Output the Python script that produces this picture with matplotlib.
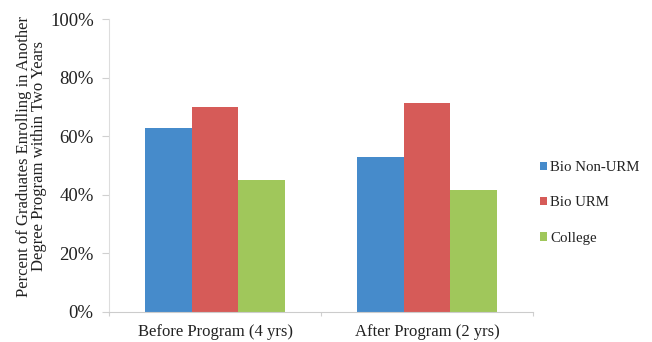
import matplotlib
matplotlib.use("Agg")
import matplotlib.pyplot as plt
import numpy as np
from matplotlib.ticker import PercentFormatter

categories = ["Before Program (4 yrs)", "After Program (2 yrs)"]
series_names = ["Bio Non-URM", "Bio URM", "College"]
bio_non_urm = [62.7, 52.8]
bio_urm = [70.0, 71.4]
college = [45.1, 41.5]
colors = ["#468bcb", "#d65b58", "#a0c75b"]

plt.rcParams["font.family"] = ["Liberation Serif", "DejaVu Serif"]

fig = plt.figure(figsize=(6.52, 3.42), dpi=100)
ax = fig.add_axes([0.1672, 0.0886, 0.6503, 0.855])

x = np.arange(len(categories))
width = 0.22
for i, (name, vals) in enumerate(zip(series_names, [bio_non_urm, bio_urm, college])):
    ax.bar(x + (i - 1) * width, vals, width, color=colors[i], label=name, zorder=2)

ax.set_xlim(-0.5, 1.5)
ax.set_ylim(0, 100)
ax.set_yticks(np.arange(0, 101, 20))
ax.yaxis.set_major_formatter(PercentFormatter(decimals=0))
ax.set_xticks(x)
ax.set_xticklabels(categories)
ax.set_xticks([-0.5, 0.5, 1.5], minor=True)

ax.tick_params(axis="x", which="major", length=0, labelsize=12, pad=9, colors="#222222")
ax.tick_params(axis="x", which="minor", length=3, color="#d0d0d0", width=0.8)
ax.tick_params(axis="y", length=5, color="#d0d0d0", width=0.8, labelsize=13.5, pad=6,
               labelcolor="#222222")

for side in ["top", "right"]:
    ax.spines[side].set_visible(False)
ax.spines["left"].set_color("#dddddd")
ax.spines["bottom"].set_color("#cccccc")
ax.spines["left"].set_linewidth(0.8)
ax.spines["bottom"].set_linewidth(0.8)

ax.set_ylabel("Percent of Graduates Enrolling in Another\nDegree Program within Two Years",
              fontsize=12, color="#222222", linespacing=0.95)
ax.yaxis.set_label_coords(-0.146, 0.532)

leg = ax.legend(loc="center left", bbox_to_anchor=(0.985, 0.372), frameon=False,
                fontsize=10.7, handlelength=0.48, handleheight=0.48, handletextpad=0.2,
                labelspacing=1.5, labelcolor="#222222")

fig.savefig("out.png", dpi=100)
